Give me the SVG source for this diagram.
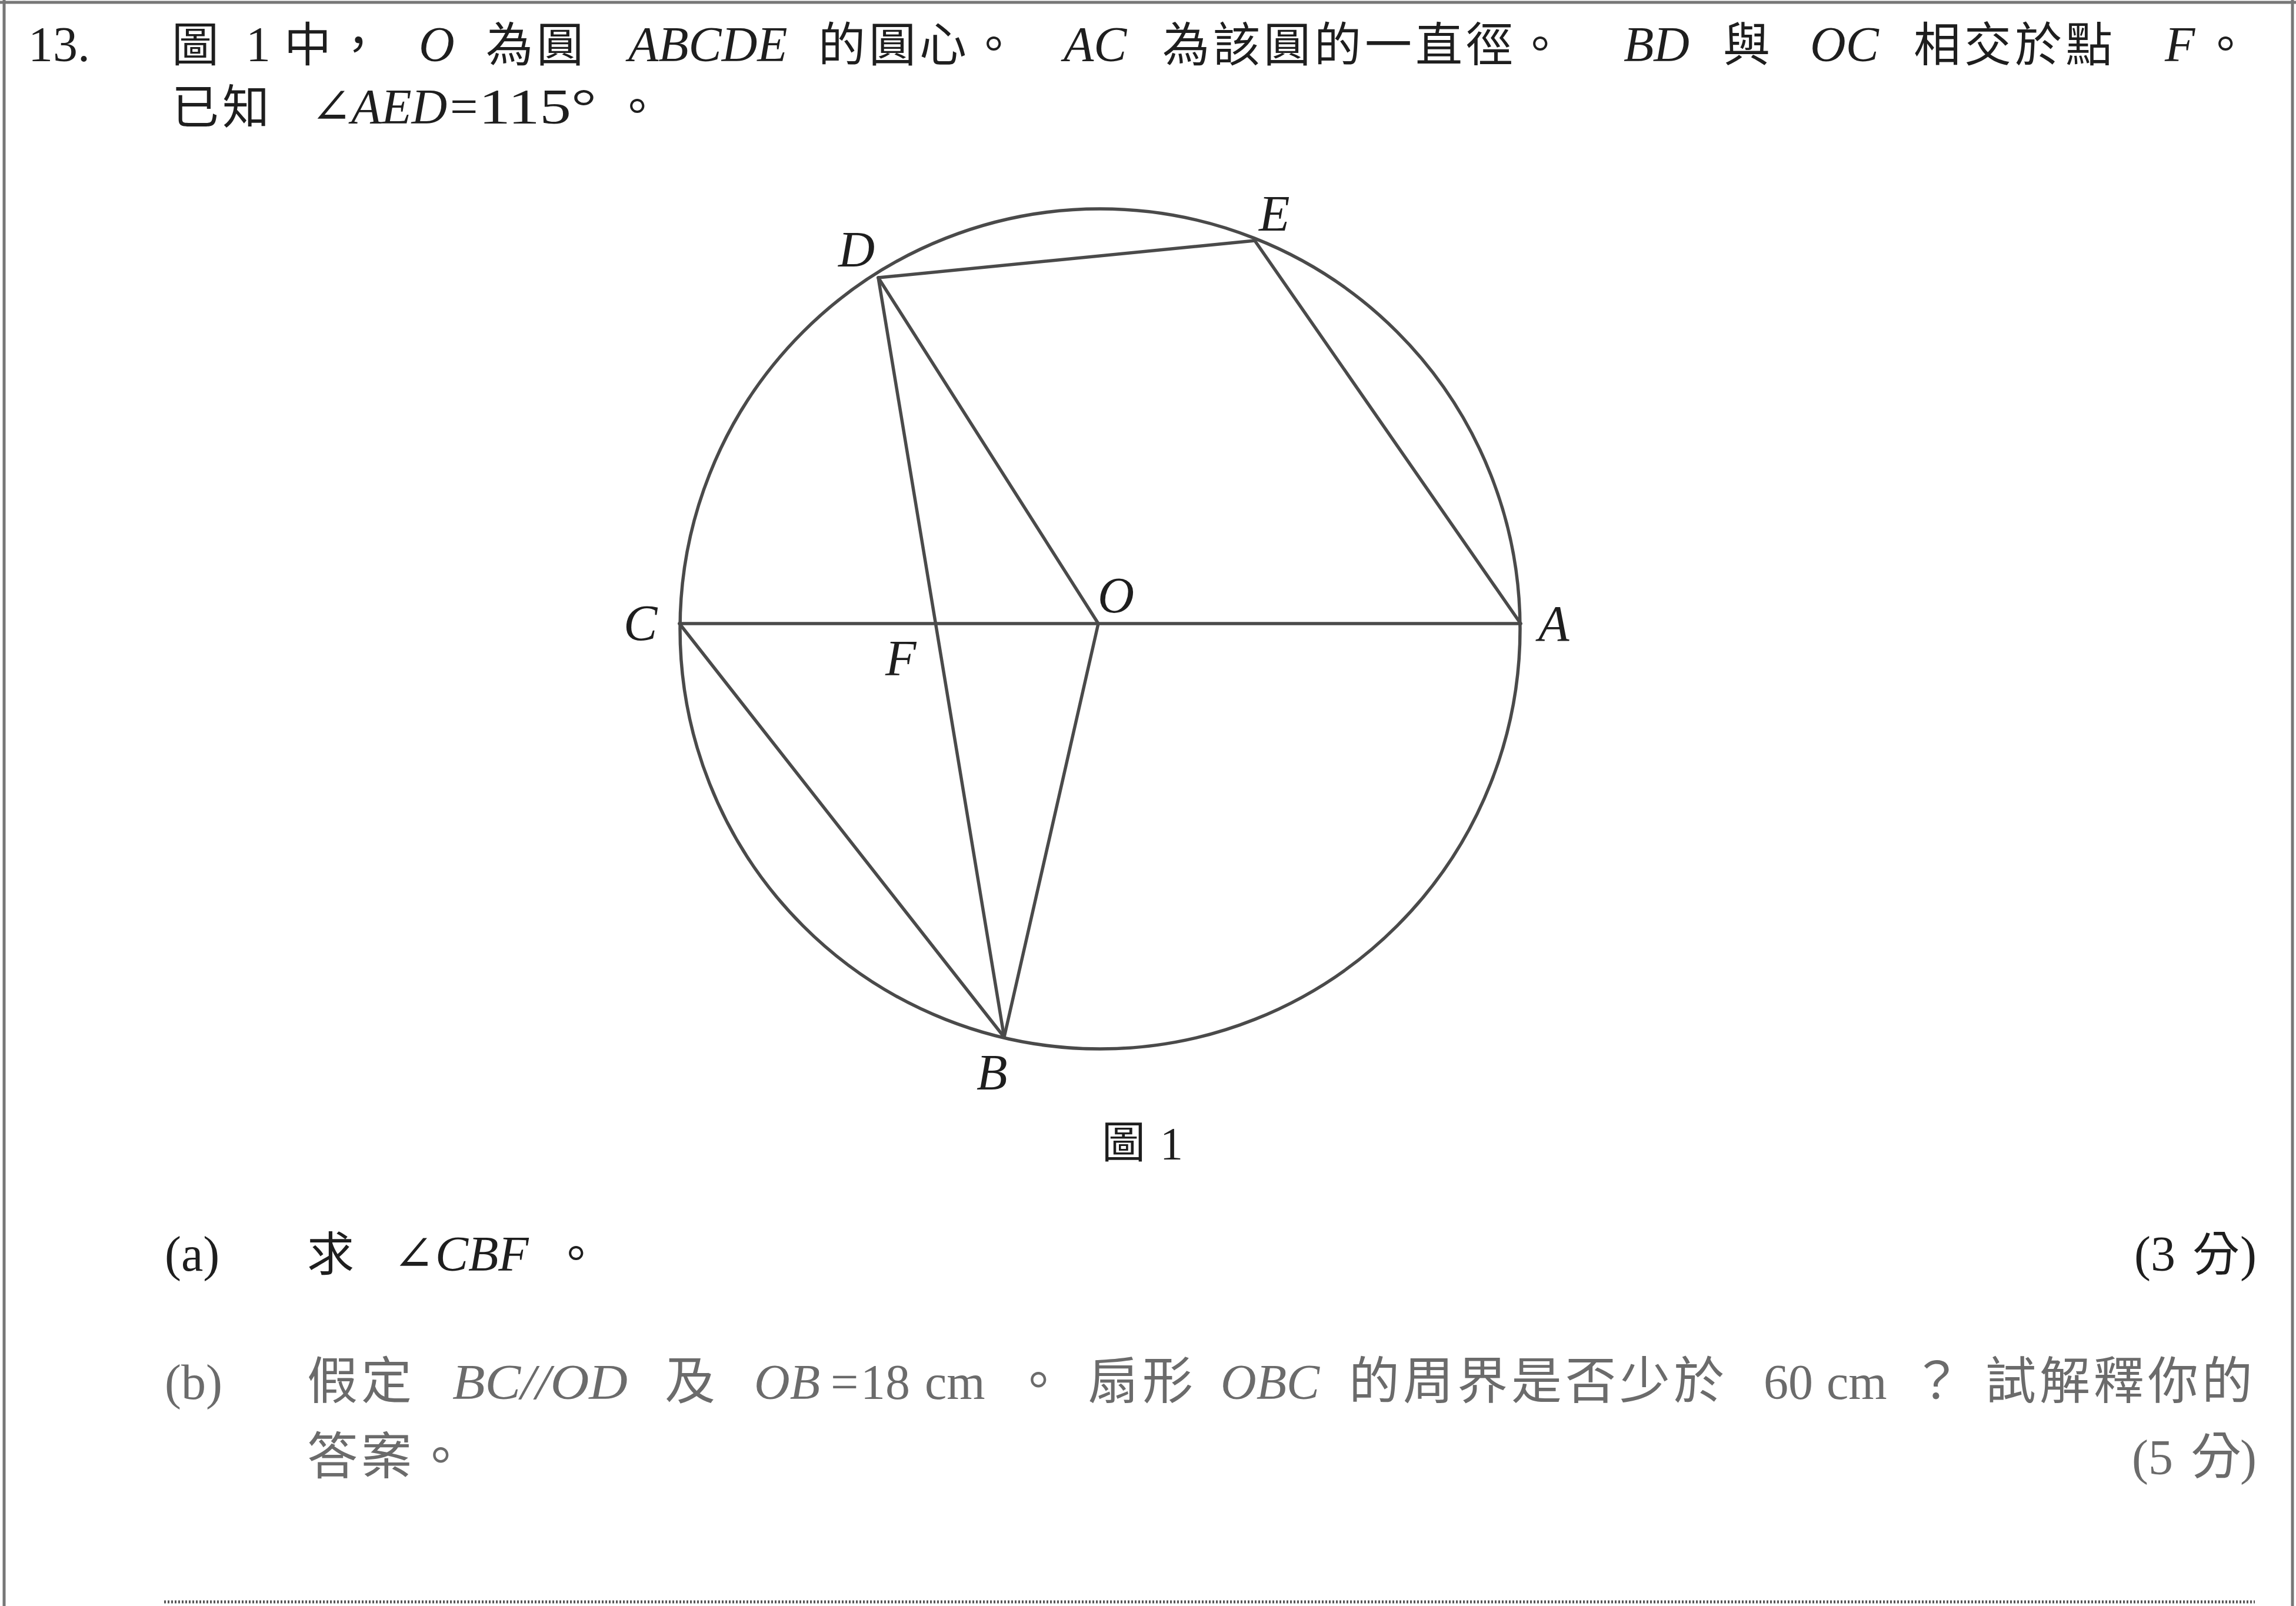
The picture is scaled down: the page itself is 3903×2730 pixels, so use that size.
<svg xmlns="http://www.w3.org/2000/svg" width="3903" height="2730" viewBox="0 0 3903 2730">
<style>
.t{font-family:'Liberation Serif','Times New Roman',serif;font-size:84px;fill:#1e1e1e}
.i{font-style:italic}
.c{font-family:'Noto Sans CJK TC','Noto Sans CJK SC',sans-serif;font-size:80px;letter-spacing:6px;fill:#1e1e1e}
.g{fill:#6b6b6b}
.cg{font-family:'Noto Sans CJK TC','Noto Sans CJK SC',sans-serif;font-size:86px;letter-spacing:6px;fill:#6b6b6b}
.ang{font-family:'DejaVu Serif','Liberation Serif',serif}
.lb{font-family:'Liberation Serif','Times New Roman',serif;font-size:86px;font-style:italic;fill:#1e1e1e}
.ln{stroke:#4a4a4a;stroke-width:5.5;fill:none;stroke-linecap:round}
.fr{stroke:#777;stroke-width:5;fill:none}
</style>
<rect width="3903" height="2730" fill="#ffffff"/>
<g id="frame">
<line class="fr" x1="0" y1="4" x2="3903" y2="4"/>
<line class="fr" x1="7" y1="0" x2="7" y2="2730" stroke="#666"/>
<line class="fr" x1="3897" y1="0" x2="3897" y2="2730"/>
<line x1="279" y1="2723" x2="3833" y2="2723" stroke="#555" stroke-width="5" stroke-dasharray="3 3"/>
</g>
<g id="question-text">
<text class="t" x="48" y="104">13.</text>
<text class="c" x="292" y="104">圖</text>
<text class="t" x="418" y="104">1</text>
<text class="c" x="483" y="104">中，</text>
<text class="t i" x="712" y="104">O</text>
<text class="c" x="826" y="104">為圓</text>
<text class="t i" x="1068" y="104">ABCDE</text>
<text class="c" x="1391" y="104">的圓心。</text>
<text class="t i" x="1808" y="104">AC</text>
<text class="c" x="1976" y="104">為該圓的一直徑。</text>
<text class="t i" x="2760" y="104">BD</text>
<text class="c" x="2929" y="104">與</text>
<text class="t i" x="3077" y="104">OC</text>
<text class="c" x="3253" y="104">相交於點</text>
<text class="t i" x="3680" y="104">F</text>
<text class="c" x="3743" y="104">。</text>
<text class="c" x="292" y="210">已知</text>
<text class="t ang" x="528" y="210">∠</text>
<text class="t i" x="597" y="210">AED</text>
<text class="t" x="765" y="210">=</text>
<text class="t" x="814" y="210" textLength="200" lengthAdjust="spacingAndGlyphs">115°</text>
<text class="c" x="1043" y="210">。</text>
</g>
<g id="figure">
<circle id="circle" class="ln" cx="1870" cy="1069" r="714"/>
<g id="connectors">
<line class="ln" x1="1155" y1="1060" x2="2585" y2="1060"/>
<line class="ln" x1="1493" y1="472" x2="2133" y2="409"/>
<line class="ln" x1="2133" y1="409" x2="2585" y2="1060"/>
<line class="ln" x1="1493" y1="472" x2="1867" y2="1060"/>
<line class="ln" x1="1493" y1="472" x2="1707" y2="1763"/>
<line class="ln" x1="1867" y1="1060" x2="1707" y2="1763"/>
<line class="ln" x1="1155" y1="1060" x2="1707" y2="1763"/>
</g>
<g id="node-D"><text class="lb" x="1425" y="453">D</text></g>
<g id="node-E"><text class="lb" x="2140" y="392">E</text></g>
<g id="node-O"><text class="lb" x="1866" y="1041">O</text></g>
<g id="node-C"><text class="lb" x="1060" y="1088">C</text></g>
<g id="node-A"><text class="lb" x="2615" y="1089">A</text></g>
<g id="node-F"><text class="lb" x="1505" y="1148">F</text></g>
<g id="node-B"><text class="lb" x="1660" y="1852">B</text></g>
<g id="caption">
<text class="c" x="1873" y="1968" style="font-size:74px">圖</text>
<text class="t" x="1972" y="1970" style="font-size:78px">1</text>
</g>
</g>
<g id="part-a">
<text class="t" x="280" y="2160">(a)</text>
<text class="c" x="522" y="2160">求</text>
<text class="t ang" x="668" y="2160">∠</text>
<text class="t i" x="740" y="2160">CBF</text>
<text class="c" x="939" y="2160">。</text>
<text class="t" x="3628" y="2160">(3</text>
<text class="c" x="3727" y="2160">分</text>
<text class="t" x="3808" y="2160">)</text>
</g>
<g id="part-b">
<text class="t g" x="280" y="2378">(b)</text>
<text class="cg" x="522" y="2378">假定</text>
<text class="t i g" x="769" y="2378" textLength="298" lengthAdjust="spacingAndGlyphs">BC//OD</text>
<text class="cg" x="1130" y="2378">及</text>
<text class="t i g" x="1282" y="2378">OB</text>
<text class="t g" x="1412" y="2378">=</text>
<text class="t g" x="1463" y="2378">18</text>
<text class="t g" x="1572" y="2378">cm</text>
<text class="cg" x="1722" y="2378">。</text>
<text class="cg" x="1850" y="2378">扇形</text>
<text class="t i g" x="2075" y="2378">OBC</text>
<text class="cg" x="2293" y="2378">的周界是否少於</text>
<text class="t g" x="2998" y="2378">60</text>
<text class="t g" x="3105" y="2378">cm</text>
<text class="cg" x="3249" y="2378">？</text>
<text class="cg" x="3375" y="2378">試解釋你的</text>
<text class="cg" x="522" y="2506">答案。</text>
<text class="t g" x="3624" y="2506">(5</text>
<text class="cg" x="3724" y="2506">分</text>
<text class="t g" x="3808" y="2506">)</text>
</g>
</svg>
